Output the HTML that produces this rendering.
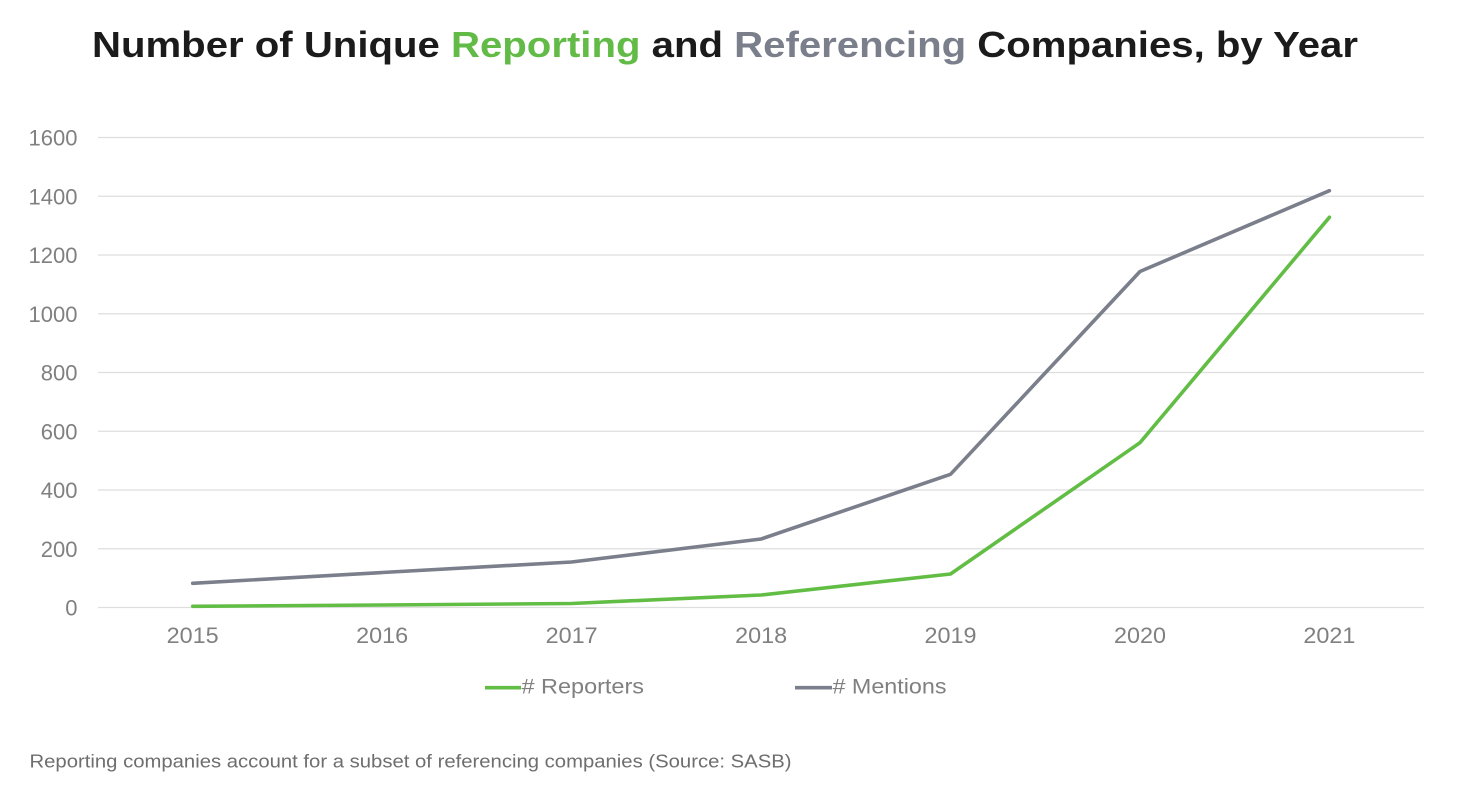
<!DOCTYPE html>
<html>
<head>
<meta charset="utf-8">
<style>
  html, body { margin:0; padding:0; background:#ffffff; }
  svg { display:block; }
  text { font-family: "Liberation Sans", Arial, sans-serif; }
</style>
</head>
<body>
<svg width="1473" height="799" viewBox="0 0 1473 799" xmlns="http://www.w3.org/2000/svg">
  <rect width="1473" height="799" fill="#ffffff"/>

  <!-- Title -->
  <text x="92" y="57" font-size="36" font-weight="bold" fill="#1b1b1b" textLength="1266" lengthAdjust="spacingAndGlyphs">Number of Unique <tspan fill="#62bb46">Reporting</tspan> and <tspan fill="#7a7f8b">Referencing</tspan> Companies, by Year</text>

  <!-- Gridlines -->
  <g stroke="#dedede" stroke-width="1.3">
    <line x1="98" y1="607.5" x2="1424" y2="607.5"/>
    <line x1="98" y1="548.75" x2="1424" y2="548.75"/>
    <line x1="98" y1="490" x2="1424" y2="490"/>
    <line x1="98" y1="431.25" x2="1424" y2="431.25"/>
    <line x1="98" y1="372.5" x2="1424" y2="372.5"/>
    <line x1="98" y1="313.75" x2="1424" y2="313.75"/>
    <line x1="98" y1="255" x2="1424" y2="255"/>
    <line x1="98" y1="196.25" x2="1424" y2="196.25"/>
    <line x1="98" y1="137.5" x2="1424" y2="137.5"/>
  </g>

  <!-- Y labels -->
  <g font-size="22" fill="#808080" text-anchor="end">
    <text x="77.5" y="615.5">0</text>
    <text x="77.5" y="556.75">200</text>
    <text x="77.5" y="498">400</text>
    <text x="77.5" y="439.25">600</text>
    <text x="77.5" y="380.5">800</text>
    <text x="77.5" y="321.75">1000</text>
    <text x="77.5" y="263">1200</text>
    <text x="77.5" y="204.25">1400</text>
    <text x="77.5" y="145.5">1600</text>
  </g>

  <!-- X labels -->
  <g font-size="22" fill="#808080">
    <text x="166.7" y="643" textLength="52" lengthAdjust="spacingAndGlyphs">2015</text>
    <text x="356.2" y="643" textLength="52" lengthAdjust="spacingAndGlyphs">2016</text>
    <text x="545.6" y="643" textLength="52" lengthAdjust="spacingAndGlyphs">2017</text>
    <text x="735.1" y="643" textLength="52" lengthAdjust="spacingAndGlyphs">2018</text>
    <text x="924.5" y="643" textLength="52" lengthAdjust="spacingAndGlyphs">2019</text>
    <text x="1114" y="643" textLength="52" lengthAdjust="spacingAndGlyphs">2020</text>
    <text x="1303.4" y="643" textLength="52" lengthAdjust="spacingAndGlyphs">2021</text>
  </g>

  <!-- Series: Mentions -->
  <polyline fill="none" stroke="#7a7f8b" stroke-width="3.6" stroke-linejoin="round" stroke-linecap="round"
    points="192.7,583.3 382.2,572.5 571.6,562 761.1,539 950.5,474.3 1140,271.5 1329.4,190.7"/>

  <!-- Series: Reporters -->
  <polyline fill="none" stroke="#62bd45" stroke-width="3.6" stroke-linejoin="round" stroke-linecap="round"
    points="192.7,606.3 382.2,605 571.6,603.5 761.1,595 950.5,574 1140,442.7 1329.4,217.3"/>

  <!-- Legend -->
  <line x1="485" y1="687.7" x2="521" y2="687.7" stroke="#62bd45" stroke-width="3.6"/>
  <text x="521.5" y="693.5" font-size="21" fill="#808080" textLength="122.5" lengthAdjust="spacingAndGlyphs"># Reporters</text>
  <line x1="795" y1="687.7" x2="832" y2="687.7" stroke="#7a7f8b" stroke-width="3.6"/>
  <text x="832.5" y="693.5" font-size="21" fill="#808080" textLength="114" lengthAdjust="spacingAndGlyphs"># Mentions</text>

  <!-- Footnote -->
  <text x="29.5" y="767.3" font-size="18" fill="#6e6e6e" textLength="762" lengthAdjust="spacingAndGlyphs">Reporting companies account for a subset of referencing companies (Source: SASB)</text>
</svg>
</body>
</html>
